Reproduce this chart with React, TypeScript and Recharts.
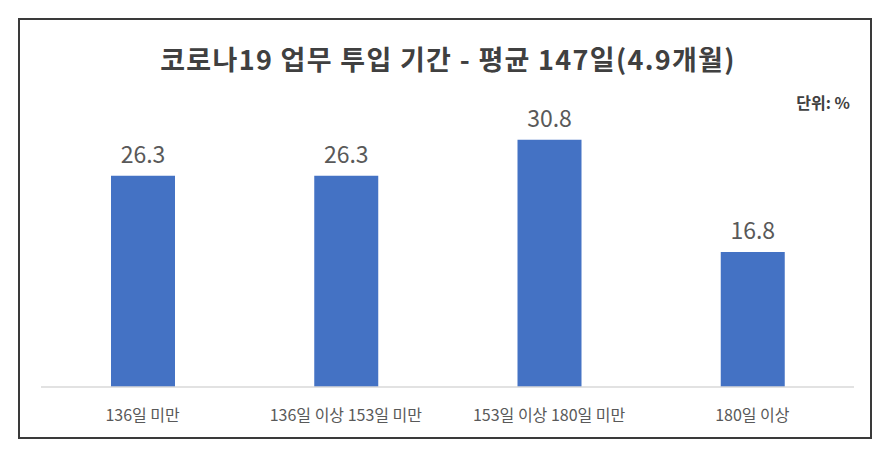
import React from 'react';
import { BarChart, Bar, XAxis, YAxis, LabelList } from 'recharts';

const categories = ['136일 미만', '136일 이상 153일 미만', '153일 이상 180일 미만', '180일 이상'];
const shares = [26.3, 26.3, 30.8, 16.8];

const data = categories.map((name, i) => ({ name, value: shares[i] }));

const FONT = '"Noto Sans CJK KR", "Noto Sans", sans-serif';

const App: React.FC = () => {
  return (
    <div style={{ position: 'absolute', left: 0, top: 0, width: 889, height: 459, background: '#fff', fontFamily: FONT }}>
      <div
        style={{
          position: 'absolute',
          left: 18,
          top: 18,
          width: 850,
          height: 417,
          border: '2px solid #3a3a3a',
        }}
      />
      <div
        style={{
          position: 'absolute',
          left: 0,
          top: 39,
          width: 896,
          textAlign: 'center',
          fontSize: 27,
          fontWeight: 600,
          letterSpacing: 1.3,
          color: '#404040',
          lineHeight: '40px',
        }}
      >
        코로나19 업무 투입 기간 - 평균 147일(4.9개월)
      </div>
      <div
        style={{
          position: 'absolute',
          left: 770,
          top: 90,
          width: 80,
          textAlign: 'right',
          fontSize: 16,
          fontWeight: 600,
          color: '#404040',
        }}
      >
        단위: %
      </div>
      <div style={{ position: 'absolute', left: 0, top: 0 }}>
        <BarChart width={889} height={459} data={data} margin={{ top: 106, right: 35, bottom: 42, left: 41 }}>
          <XAxis
            dataKey="name"
            axisLine={{ stroke: '#d9d9d9', strokeWidth: 1.5 }}
            tickLine={false}
            tick={{ fill: '#595959', fontSize: 16, fontFamily: FONT }}
            tickMargin={17}
            height={30}
            interval={0}
          />
          <YAxis hide domain={[0, 35]} />
          <Bar dataKey="value" fill="#4472c4" barSize={64} isAnimationActive={false}>
            <LabelList
              dataKey="value"
              position="top"
              offset={13}
              style={{ fill: '#595959', fontSize: 23, fontFamily: FONT }}
            />
          </Bar>
        </BarChart>
      </div>
    </div>
  );
};

export default App;
